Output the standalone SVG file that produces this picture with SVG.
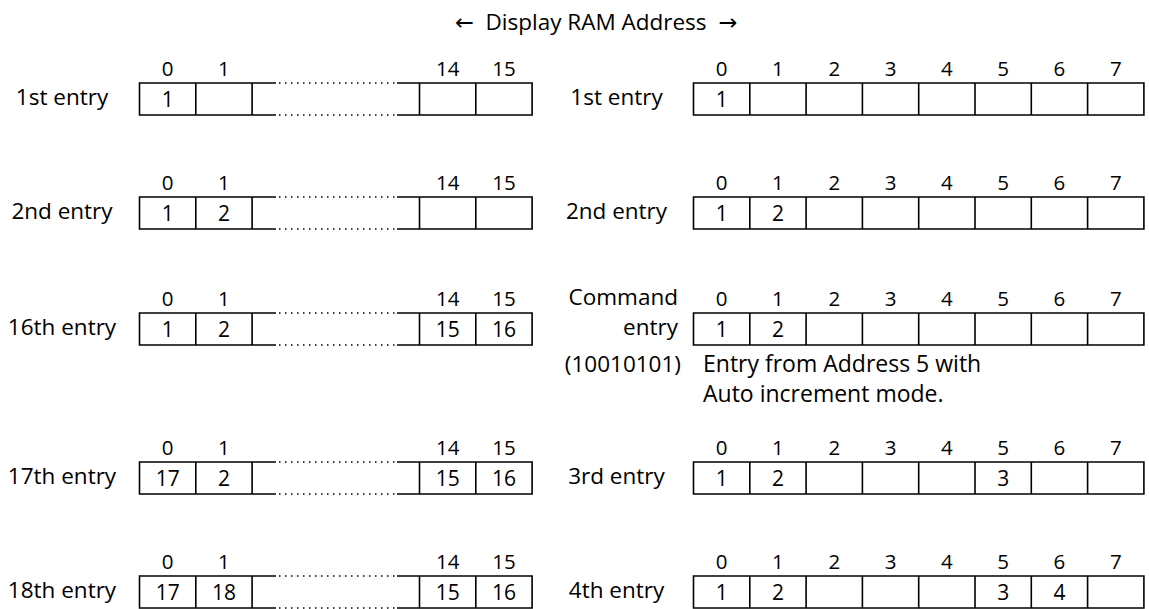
<svg xmlns="http://www.w3.org/2000/svg" width="1149" height="609" viewBox="0 0 1149 609">
<style>
.box{fill:none;stroke:#000;stroke-width:1.6}
.dot{fill:none;stroke:#000;stroke-width:1.5;stroke-dasharray:1.5 4.5}
text{font-family:"Open Sans","DejaVu Sans",sans-serif;fill:#000}
.lbl{font-size:22.5px;text-anchor:middle}
.num{font-size:20.5px;text-anchor:middle}
.cell{font-size:21px;text-anchor:middle}
.end{font-size:22.5px;text-anchor:end}
.txt{font-size:23px}
</style>
<defs>
<g id="ltab">
<path class="box" d="M139.5 0H252.1V32H139.5Z M195.8 0V32 M252.1 0H276 M252.1 32H276 M397 0H419.5 M397 32H419.5 M419.5 0H532.1V32H419.5Z M475.8 0V32"/>
<path class="dot" d="M279 0H397 M279 32H397"/>
<text class="num" x="167.65" y="-7">0</text>
<text class="num" x="223.95" y="-7">1</text>
<text class="num" x="447.65" y="-7">14</text>
<text class="num" x="503.95" y="-7">15</text>
</g>
<g id="rtab">
<path class="box" d="M693.5 0H1143.9V32H693.5Z M749.8 0V32 M806.1 0V32 M862.4 0V32 M918.7 0V32 M975 0V32 M1031.3 0V32 M1087.6 0V32"/>
<text class="num" x="721.65" y="-7">0</text>
<text class="num" x="777.95" y="-7">1</text>
<text class="num" x="834.25" y="-7">2</text>
<text class="num" x="890.55" y="-7">3</text>
<text class="num" x="946.85" y="-7">4</text>
<text class="num" x="1003.15" y="-7">5</text>
<text class="num" x="1059.45" y="-7">6</text>
<text class="num" x="1115.75" y="-7">7</text>
</g>
</defs>

<g id="header">
<text class="lbl" x="596" y="30" font-size="23" xml:space="preserve">←  Display RAM Address  →</text>
</g>

<g id="left-1st" transform="translate(0,83)">
<use href="#ltab"/>
<text class="lbl" x="62" y="22">1st entry</text>
<text class="cell" x="167.65" y="23.5">1</text>
</g>
<g id="left-2nd" transform="translate(0,197)">
<use href="#ltab"/>
<text class="lbl" x="62" y="22">2nd entry</text>
<text class="cell" x="167.65" y="23.5">1</text>
<text class="cell" x="223.95" y="23.5">2</text>
</g>
<g id="left-16th" transform="translate(0,313)">
<use href="#ltab"/>
<text class="lbl" x="62" y="22">16th entry</text>
<text class="cell" x="167.65" y="23.5">1</text>
<text class="cell" x="223.95" y="23.5">2</text>
<text class="cell" x="447.65" y="23.5">15</text>
<text class="cell" x="503.95" y="23.5">16</text>
</g>
<g id="left-17th" transform="translate(0,462)">
<use href="#ltab"/>
<text class="lbl" x="62" y="22">17th entry</text>
<text class="cell" x="167.65" y="23.5">17</text>
<text class="cell" x="223.95" y="23.5">2</text>
<text class="cell" x="447.65" y="23.5">15</text>
<text class="cell" x="503.95" y="23.5">16</text>
</g>
<g id="left-18th" transform="translate(0,576)">
<use href="#ltab"/>
<text class="lbl" x="62" y="22">18th entry</text>
<text class="cell" x="167.65" y="23.5">17</text>
<text class="cell" x="223.95" y="23.5">18</text>
<text class="cell" x="447.65" y="23.5">15</text>
<text class="cell" x="503.95" y="23.5">16</text>
</g>

<g id="right-1st" transform="translate(0,83)">
<use href="#rtab"/>
<text class="lbl" x="616.5" y="22">1st entry</text>
<text class="cell" x="721.65" y="23.5">1</text>
</g>
<g id="right-2nd" transform="translate(0,197)">
<use href="#rtab"/>
<text class="lbl" x="616.5" y="22">2nd entry</text>
<text class="cell" x="721.65" y="23.5">1</text>
<text class="cell" x="777.95" y="23.5">2</text>
</g>
<g id="right-command" transform="translate(0,313)">
<use href="#rtab"/>
<text class="end" x="678" y="-8">Command</text>
<text class="end" x="678" y="22">entry</text>
<text class="end" x="681" y="59">(10010101)</text>
<text class="txt" x="703" y="59">Entry from Address 5 with</text>
<text class="txt" x="703" y="89">Auto increment mode.</text>
<text class="cell" x="721.65" y="23.5">1</text>
<text class="cell" x="777.95" y="23.5">2</text>
</g>
<g id="right-3rd" transform="translate(0,462)">
<use href="#rtab"/>
<text class="lbl" x="616.5" y="22">3rd entry</text>
<text class="cell" x="721.65" y="23.5">1</text>
<text class="cell" x="777.95" y="23.5">2</text>
<text class="cell" x="1003.15" y="23.5">3</text>
</g>
<g id="right-4th" transform="translate(0,576)">
<use href="#rtab"/>
<text class="lbl" x="616.5" y="22">4th entry</text>
<text class="cell" x="721.65" y="23.5">1</text>
<text class="cell" x="777.95" y="23.5">2</text>
<text class="cell" x="1003.15" y="23.5">3</text>
<text class="cell" x="1059.45" y="23.5">4</text>
</g>
</svg>
